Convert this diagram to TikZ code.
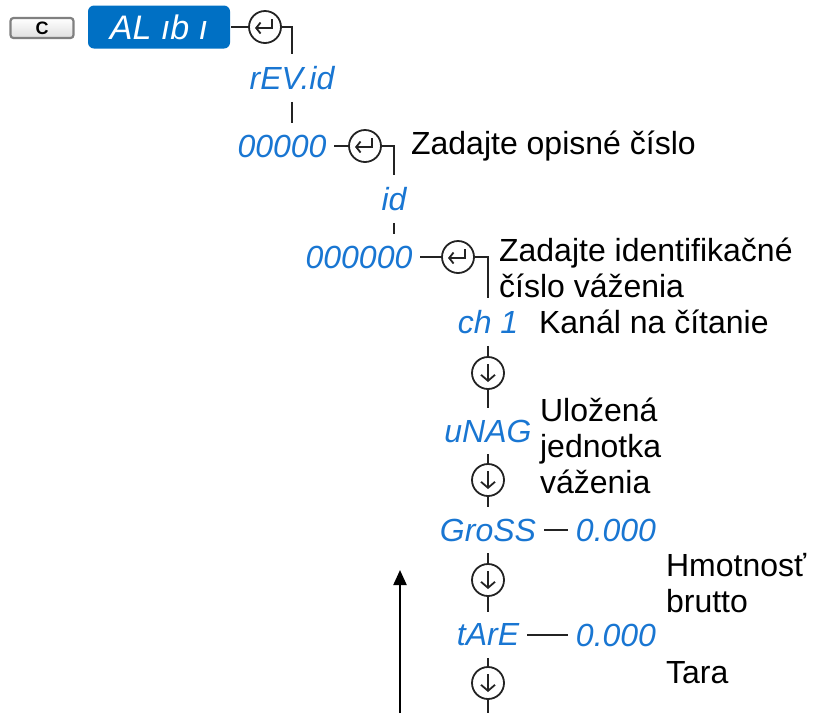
\documentclass[tikz,border=0pt]{standalone}
\usepackage{fontspec}
\setmainfont{Liberation Sans}
\usetikzlibrary{arrows.meta}
\definecolor{segblue}{RGB}{25,118,210}
\definecolor{boxblue}{RGB}{0,112,196}
\definecolor{keygray}{RGB}{35,35,35}

\begin{document}
\begin{tikzpicture}[x=0.5pt,y=-0.5pt, line width=1.1pt, draw=keygray,
    seg/.style={text=segblue, font=\fontsize{16pt}{18pt}\selectfont\itshape,
      inner sep=0pt, outer xsep=4pt, outer ysep=6pt},
    note/.style={anchor=west, align=left, inner sep=0pt,
      font=\fontsize{16pt}{18pt}\selectfont},
    enterkey/.style={circle, draw, line width=0.9pt, minimum size=16pt, inner sep=0pt,
      path picture={\draw[line width=0.9pt, -{Straight Barb[length=2.2pt,width=5.5pt]}]
        ([shift={(3.3pt,4pt)}]path picture bounding box.center) --
        ([shift={(3.3pt,-0.5pt)}]path picture bounding box.center) --
        ([shift={(-5pt,-0.5pt)}]path picture bounding box.center);}},
    downkey/.style={circle, draw, line width=0.9pt, minimum size=16pt, inner sep=0pt,
      path picture={\draw[line width=0.9pt, -{Straight Barb[length=3pt,width=7pt]}]
        ([shift={(0pt,4.5pt)}]path picture bounding box.center) --
        ([shift={(0pt,-4.5pt)}]path picture bounding box.center);}}]
\useasboundingbox (0,0) rectangle (823,713);

\node[draw=gray, rounded corners=1.5pt, top color=white, bottom color=gray!25,
  minimum width=31.5pt, minimum height=10pt, inner sep=0pt,
  font=\fontsize{9pt}{10pt}\selectfont\bfseries] (btnc) at (42,28) {C};
\node[fill=boxblue, rounded corners=3pt, minimum width=71pt, minimum height=21.5pt,
  text=white, font=\fontsize{17pt}{18pt}\selectfont\itshape] (alibi) at (159,27) {AL ıb ı};
\node[enterkey] (ent1) at (265,27) {};
\draw (alibi.east) -- (ent1.west);

\node[seg] (revid) at (292,78) {rEV.id};
\draw (ent1.east) -| (revid.north);
\node[seg] (num1) at (282,146) {00000};
\draw (revid.south) -- (revid.south |- num1.north);
\node[enterkey] (ent2) at (365,146) {};
\draw (num1.east) -- (ent2.west);
\node[note] (txtdesc) at (410,146) {Zadajte opisné číslo};

\node[seg] (idlbl) at (394,199) {id};
\draw (ent2.east) -| (idlbl.north);
\node[seg] (num2) at (359,257) {000000};
\draw (idlbl.south) -- (idlbl.south |- num2.north);
\node[enterkey] (ent3) at (458,257) {};
\draw (num2.east) -- (ent3.west);
\node[note] (txtid) at (498,268) {Zadajte identifikačné\\číslo váženia};

\node[seg] (ch1) at (488,322) {ch 1};
\draw (ent3.east) -| (ch1.north);
\node[note] (txtch) at (538,322) {Kanál na čítanie};
\node[downkey] (dn1) at (488,373) {};
\node[seg] (unag) at (488,431) {uNAG};
\node[note] (txtunit) at (539,446) {Uložená\\jednotka\\váženia};
\node[downkey] (dn2) at (488,480) {};
\node[seg] (gross) at (488,530) {GroSS};
\node[seg] (grossval) at (616,530) {0.000};
\draw (gross.east) -- (grossval.west);
\node[downkey] (dn3) at (488,580) {};
\node[note] (txtgross) at (665,583) {Hmotnosť\\brutto};
\node[seg] (tare) at (488,635) {tArE};
\node[seg] (tareval) at (616,635) {0.000};
\draw (tare.east) -- (tareval.west);
\node[note] (txttare) at (665,673) {Tara};
\node[downkey] (dn4) at (488,683) {};
\coordinate (flowend) at (488,713);

\foreach \a/\b in {ch1/dn1, dn1/unag, unag/dn2, dn2/gross, gross/dn3, dn3/tare, tare/dn4}
  \draw (\a.south) -- (\b.north);
\draw (dn4.south) -- (flowend);

\coordinate (arrowfoot) at (400,713);
\coordinate (arrowtip) at (400,570);
\draw[black, -{Triangle[length=7.5pt,width=6.5pt]}] (arrowfoot) -- (arrowtip);
\end{tikzpicture}
\end{document}
